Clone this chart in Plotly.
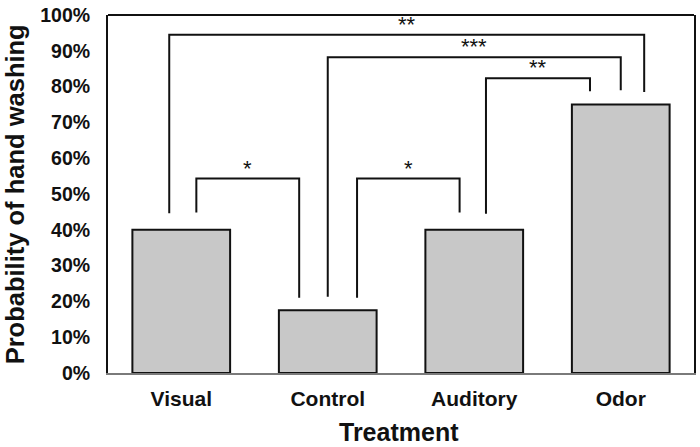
import plotly.graph_objects as go

categories = ["Visual", "Control", "Auditory", "Odor"]
probability = [0.40, 0.175, 0.40, 0.75]

# significance brackets: left x, left leg bottom, right x, right leg bottom, top, label
bracket_x_left = [0.103, 1.2, -0.082, 1.0, 2.08]
bracket_y_left = [0.448, 0.21, 0.446, 0.213, 0.445]
bracket_x_right = [0.805, 1.9, 3.16, 3.0, 2.79]
bracket_y_right = [0.21, 0.448, 0.785, 0.79, 0.787]
bracket_top = [0.543, 0.543, 0.945, 0.882, 0.823]
bracket_label = ["*", "*", "**", "***", "**"]

FONT = "Arial, Liberation Sans, sans-serif"

fig = go.Figure()
fig.add_trace(go.Bar(
    x=list(range(len(categories))), y=probability, width=0.667,
    marker=dict(color="#c8c8c8", line=dict(color="#111111", width=2)),
    showlegend=False, hoverinfo="skip",
))

for xl, yl, xr, yr, yt, lab in zip(bracket_x_left, bracket_y_left, bracket_x_right,
                                   bracket_y_right, bracket_top, bracket_label):
    fig.add_trace(go.Scatter(
        x=[xl, xl, xr, xr], y=[yl, yt, yt, yr], mode="lines",
        line=dict(color="#111111", width=2), showlegend=False, hoverinfo="skip",
    ))
    fig.add_annotation(
        x=(xl + xr) / 2, y=yt, text=lab, showarrow=False, xref="x", yref="y",
        yanchor="bottom", yshift=-4,
        font=dict(family=FONT, size=22, color="#111111"),
    )

fig.add_shape(type="line", xref="paper", yref="paper", x0=0, x1=1, y0=1, y1=1,
              line=dict(color="#111111", width=2))

fig.add_annotation(
    text="<b>Probability of hand washing</b>", xref="paper", yref="paper",
    x=(15 - 108) / 588, y=0.5, textangle=-90, showarrow=False,
    xanchor="center", yanchor="middle",
    font=dict(family=FONT, size=25.5, color="#111111"),
)
fig.add_annotation(
    text="<b>Treatment</b>", xref="paper", yref="paper",
    x=(400 - 108) / 588, y=-(432.5 - 373) / 363.5, showarrow=False,
    xanchor="center", yanchor="middle",
    font=dict(family=FONT, size=25, color="#111111"),
)

fig.update_layout(
    width=700, height=447,
    margin=dict(l=108, r=4, t=9.5, b=74),
    paper_bgcolor="white", plot_bgcolor="white",
    bargap=0.333,
    xaxis=dict(
        range=[-0.5, 3.5], tickmode="array", tickvals=list(range(len(categories))),
        ticktext=[f"<b>{c}</b>" for c in categories],
        showline=True, linecolor="#7a7a7a", linewidth=2, ticks="",
        showgrid=False, zeroline=False, ticklabelstandoff=6,
        tickfont=dict(family=FONT, size=21, color="#111111"),
        fixedrange=True,
    ),
    yaxis=dict(
        range=[0, 1], tickmode="array", tickvals=[i / 10 for i in range(11)],
        ticktext=[f"<b>{i * 10}%</b>" for i in range(11)],
        showline=True, linecolor="#111111", linewidth=2, mirror=True, ticks="",
        showgrid=False, zeroline=False, ticklabelstandoff=12,
        ticklabeloverflow="allow",
        tickfont=dict(family=FONT, size=19.5, color="#111111"),
        fixedrange=True,
    ),
)

fig.write_html(
    "out.html",
    config={"displayModeBar": False},
    post_script="document.body.style.margin='0';document.body.style.padding='0';",
)
